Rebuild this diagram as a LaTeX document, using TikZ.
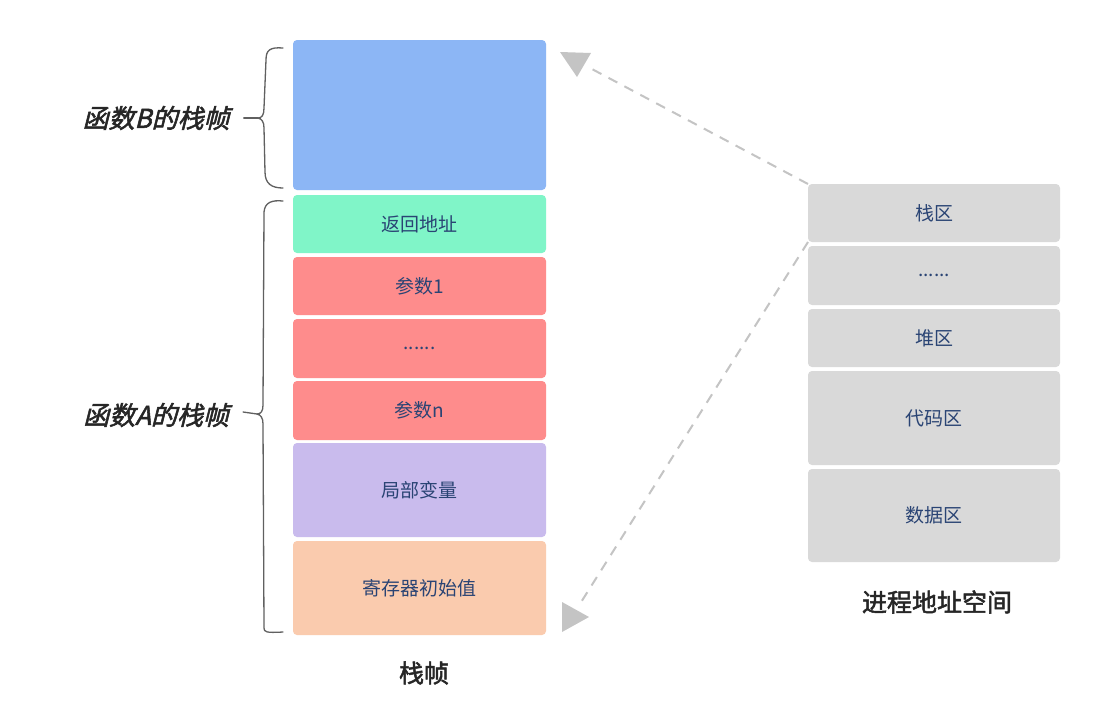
\documentclass[tikz,border=0pt]{standalone}
\usepackage{fontspec}
\newfontfamily\cjk{Noto Sans CJK SC}
\newfontfamily\cjklab{Noto Sans CJK SC}[FakeSlant=0.25,FakeBold=2]
\newfontfamily\cjkcap{Noto Sans CJK SC}[FakeBold=2]
\definecolor{cblue}{HTML}{8CB6F5}
\definecolor{cgreen}{HTML}{80F5C8}
\definecolor{cred}{HTML}{FE8C8C}
\definecolor{cpurple}{HTML}{C9BBED}
\definecolor{corange}{HTML}{FACBAE}
\definecolor{cgray}{HTML}{D9D9D9}
\definecolor{txt}{HTML}{2A4474}
\definecolor{arr}{HTML}{C4C4C4}
\definecolor{brc}{HTML}{606060}
\tikzset{
  blk/.style={draw=none, rounded corners=4pt, inner sep=0pt, outer sep=0pt,
    minimum width=253pt, font=\cjk\fontsize{19}{22}\selectfont, text=txt},
  gblk/.style={blk, fill=cgray, minimum width=252pt},
  sidelab/.style={font=\cjklab\fontsize{26}{28}\selectfont, text=black!85, inner sep=0pt},
  caplab/.style={font=\cjkcap\fontsize{25}{28}\selectfont, text=black!85, inner sep=0pt},
  dashline/.style={draw=arr, line width=2pt, dash pattern=on 10pt off 8pt},
  headfill/.style={fill=arr, draw=none},
  bracestyle/.style={draw=brc, line width=1.3pt, line cap=round, line join=round},
}
\begin{document}
\begin{tikzpicture}[x=1pt,y=-1pt]
\useasboundingbox (0,0) rectangle (1120,704);
\fill[white] (0,0) rectangle (1120,704);
% stack frame column
\node[blk, fill=cblue,   minimum height=150pt] (fb)  at (419.5,115)   {};
\node[blk, fill=cgreen,  minimum height=58pt]  (ret) at (419.5,224)   {返回地址};
\node[blk, fill=cred,    minimum height=58pt]  (p1)  at (419.5,286)   {参数1};
\node[blk, fill=cred,    minimum height=59pt]  (pd)  at (419.5,348.5) {......};
\node[blk, fill=cred,    minimum height=59pt]  (pn)  at (419.5,410.5) {参数n};
\node[blk, fill=cpurple, minimum height=94pt]  (loc) at (419.5,490)   {局部变量};
\node[blk, fill=corange, minimum height=94pt]  (reg) at (419.5,588)   {寄存器初始值};
% process address space column
\node[gblk, minimum height=58pt] (s1) at (934,213)   {栈区};
\node[gblk, minimum height=59pt] (s2) at (934,275.5) {......};
\node[gblk, minimum height=58pt] (s3) at (934,338)   {堆区};
\node[gblk, minimum height=94pt] (s4) at (934,418)   {代码区};
\node[gblk, minimum height=93pt] (s5) at (934,515.5) {数据区};
% captions
\node[caplab] (capR) at (937,602) {进程地址空间};
\node[caplab] (capL) at (424,673) {栈帧};
\node[sidelab] (labB) at (156,118) {函数B的栈帧};
\node[sidelab] (labA) at (156,415) {函数A的栈帧};
% braces
\path[bracestyle] (283,48) .. controls (270,47) and (266,50) .. (266,60)
  -- (264,108) .. controls (264,115) and (262,118) .. (258,118)
  .. controls (262,119) and (264,122) .. (264,128)
  -- (265,172) .. controls (265,184) and (272,188) .. (283,188);
\draw[bracestyle] (labB.east) ++(14,0) -- (258,118);
\path[bracestyle] (283,201) .. controls (272,200) and (265,202) .. (264,212)
  -- (263,405) .. controls (263,411) and (261,414) .. (257,414)
  .. controls (261,415) and (263,418) .. (263,424)
  -- (264,628) .. controls (264,632) and (266,633) .. (283,632);
\draw[bracestyle] (labA.east) ++(14,-3) -- (257,414);
% connectors
\coordinate (t1) at (590,68);
\coordinate (t2) at (578,607);
\draw[dashline] (s1.north west) -- (t1);
\fill[headfill] (560,52) -- (591,53) -- (577,77) -- cycle;
\draw[dashline] (s1.south west) -- (t2);
\fill[headfill] (562,602) -- (589,617) -- (562,632) -- cycle;
\end{tikzpicture}
\end{document}
